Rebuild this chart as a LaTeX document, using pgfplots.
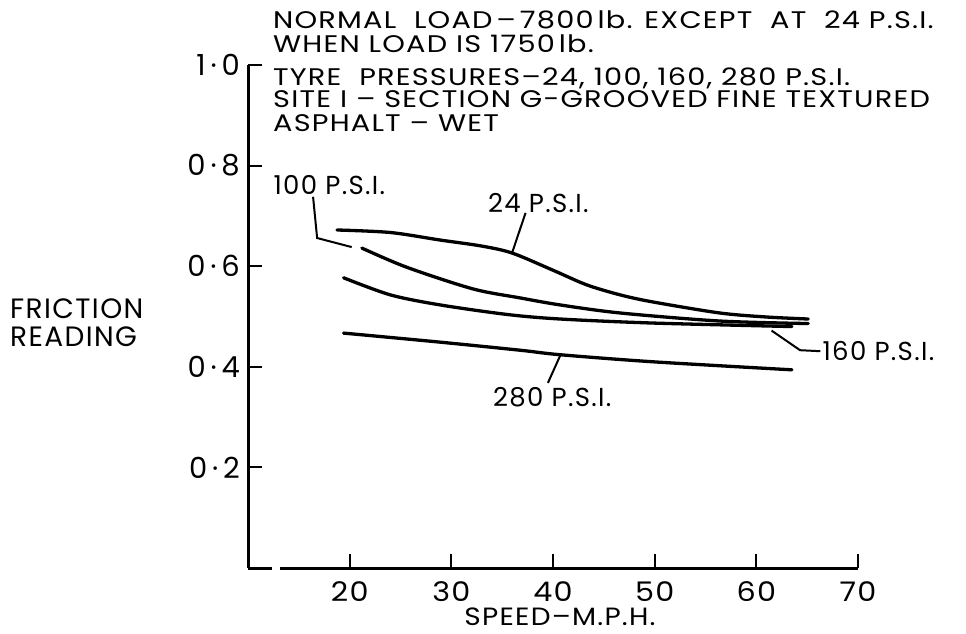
\documentclass[border=0pt]{standalone}
\usepackage{pgfplots}
\pgfplotsset{compat=1.18}
\usepackage{fontspec}
\setmainfont{Poppins}[LetterSpace=5]
\newfontfamily\wide{Poppins}[LetterSpace=5, FakeStretch=1.2]
\newfontfamily\wider{Poppins}[LetterSpace=5, FakeStretch=1.12]
\newcommand{\hd}{\wide\fontsize{24}{26}\selectfont}
\newcommand{\lb}{\fontsize{26}{28}\selectfont}
\begin{document}
\begin{tikzpicture}[x=1pt,y=1pt]
\path[use as bounding box] (0,0) rectangle (966,633);
\begin{axis}[
  scale only axis, width=610pt, height=503pt,
  at={(248pt,65pt)}, anchor=south west,
  xmin=10, xmax=70, ymin=0, ymax=1,
  axis x line=bottom, axis y line=left,
  axis line style={-, line width=3pt, black},
  xtick={20,30,40,50,60,70},
  xticklabels={20,30,40,50,60,70},
  ytick={0.2,0.4,0.6,0.8,1.0},
  yticklabels={0\,·\,2,0\,·\,4,0\,·\,6,0\,·\,8,1\,·\,0},
  tick align=inside,
  major tick length=14pt,
  tick style={line width=2pt, black},
  xticklabel style={font=\wider\fontsize{27}{29}\selectfont, anchor=north, inner sep=0pt, yshift=-13pt},
  yticklabel style={font=\fontsize{29}{31}\selectfont, anchor=east, inner sep=0pt, xshift=-8pt},
  clip=false,
]
% 24 P.S.I.
\addplot[black, line width=3.3pt, line cap=round, smooth, tension=0.5] coordinates {
 (18.75,0.672) (24,0.667) (28.9,0.652) (33,0.640) (36.0,0.626) (40,0.592) (43.3,0.563) (46.6,0.543) (49.8,0.529) (56.4,0.507) (61,0.499) (65.1,0.495)};
% 100 P.S.I.
\addplot[black, line width=3.3pt, line cap=round, smooth, tension=0.5] coordinates {
 (21.2,0.636) (25.6,0.598) (32.1,0.555) (36.75,0.537) (40.7,0.523) (46.6,0.507) (56.4,0.491) (65.1,0.486)};
% 160 P.S.I.
\addplot[black, line width=3.3pt, line cap=round, smooth, tension=0.5] coordinates {
 (19.4,0.577) (24.0,0.543) (28.9,0.523) (35.5,0.504) (40.7,0.495) (49.8,0.487) (63.5,0.480)};
% 280 P.S.I.
\addplot[black, line width=3.3pt, line cap=round, smooth, tension=0.5] coordinates {
 (19.4,0.467) (28.9,0.449) (36.75,0.433) (40.7,0.424) (49.8,0.410) (63.5,0.394)};
% leader lines
\addplot[black, line width=2pt] coordinates {(16.4,0.738) (16.8,0.656) (20.2,0.638)};
\addplot[black, line width=2pt] coordinates {(37.3,0.706) (36.0,0.628)};
\addplot[black, line width=2pt] coordinates {(40.7,0.422) (39.5,0.368)};
\addplot[black, line width=2pt] coordinates {(61.5,0.472) (64.3,0.433) (66.3,0.431)};
\node[anchor=west, inner sep=0pt, font=\lb] at (axis cs:12.5,0.761) {100 P.S.I.};
\node[anchor=west, inner sep=0pt, font=\lb] at (axis cs:33.6,0.726) {24 P.S.I.};
\node[anchor=west, inner sep=0pt, font=\lb] at (axis cs:34.1,0.340) {280 P.S.I.};
\node[anchor=west, inner sep=0pt, font=\lb] at (axis cs:66.5,0.431) {160 P.S.I.};
\end{axis}
% small gap in the base line near the corner, as in the original
\fill[white] (272,62) rectangle (280,68);
% header text
\node[anchor=base west, inner sep=0pt, font=\hd] at (273,604) {NORMAL\ \ LOAD\,–\,7800\,lb. EXCEPT\ \ AT\ \ 24 P.S.I.};
\node[anchor=base west, inner sep=0pt, font=\hd] at (273,580) {WHEN LOAD IS 1750\,lb.};
\node[anchor=base west, inner sep=0pt, font=\hd] at (273,547) {TYRE\ \ PRESSURES–24, 100, 160, 280 P.S.I.};
\node[anchor=base west, inner sep=0pt, font=\hd] at (273,525) {SITE I – SECTION G-GROOVED FINE TEXTURED};
\node[anchor=base west, inner sep=0pt, font=\hd] at (273,501) {ASPHALT – WET};
% y label
\node[anchor=west, inner sep=0pt, align=left, font=\fontsize{28}{28}\selectfont] at (10,310) {FRICTION\\READING};
% x label
\node[anchor=center, inner sep=0pt, font=\wider\fontsize{25}{26}\selectfont] at (560,16) {SPEED–M.P.H.};
\end{tikzpicture}
\end{document}
